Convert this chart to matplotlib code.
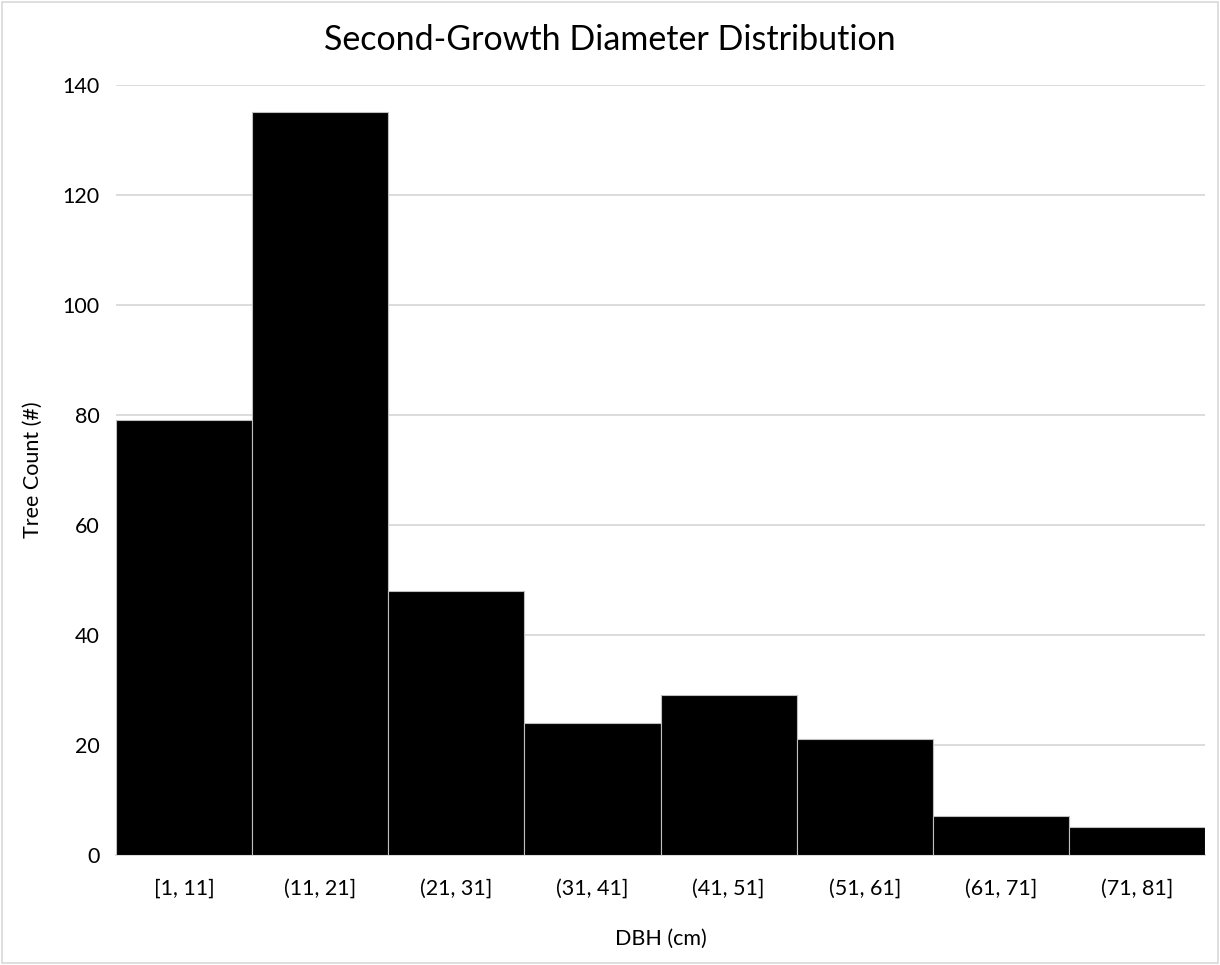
import matplotlib.pyplot as plt
import numpy as np

plt.rcParams['font.family'] = ['Lato', 'DejaVu Sans']

# bins of DBH and the number of trees in each
bins = ["[1, 11]", "(11, 21]", "(21, 31]", "(31, 41]", "(41, 51]", "(51, 61]", "(61, 71]", "(71, 81]"]
counts = [79, 135, 48, 24, 29, 21, 7, 5]
y_ticks = [0, 20, 40, 60, 80, 100, 120, 140]

fig = plt.figure(figsize=(12.2, 9.65), dpi=100)
ax = fig.add_axes([0.0951, 0.114, 0.8926, 0.798])

x = np.arange(len(bins))
ax.bar(x, counts, width=1.0, color="black", edgecolor="#bfbfbf", linewidth=0.8, zorder=3)

ax.set_xlim(-0.5, len(bins) - 0.5)
ax.set_ylim(0, 140)
ax.set_yticks(y_ticks)
ax.set_xticks(x)
ax.set_xticklabels(bins)
ax.tick_params(length=0, labelsize=15.5, colors="#000000")
ax.tick_params(axis="x", pad=17)
ax.tick_params(axis="y", pad=12)
ax.yaxis.grid(True, color="#d9d9d9", linewidth=1.3, zorder=0)
for s in ["top", "right", "left"]:
    ax.spines[s].set_visible(False)
ax.spines["bottom"].set_color("#d9d9d9")
ax.spines["bottom"].set_linewidth(1.3)

ax.set_xlabel("DBH (cm)", fontsize=15.5, labelpad=22)
ax.set_ylabel("Tree Count (#)", fontsize=15.5, labelpad=14)
fig.text(0.5, 0.959, "Second-Growth Diameter Distribution", fontsize=24.5, ha="center", va="center")

# light chart border
fig.patches.append(plt.Rectangle((0.002, 0.002), 0.996, 0.996, transform=fig.transFigure,
                                 fill=False, edgecolor="#d9d9d9", linewidth=1.2))

fig.savefig("out.png", dpi=100)
